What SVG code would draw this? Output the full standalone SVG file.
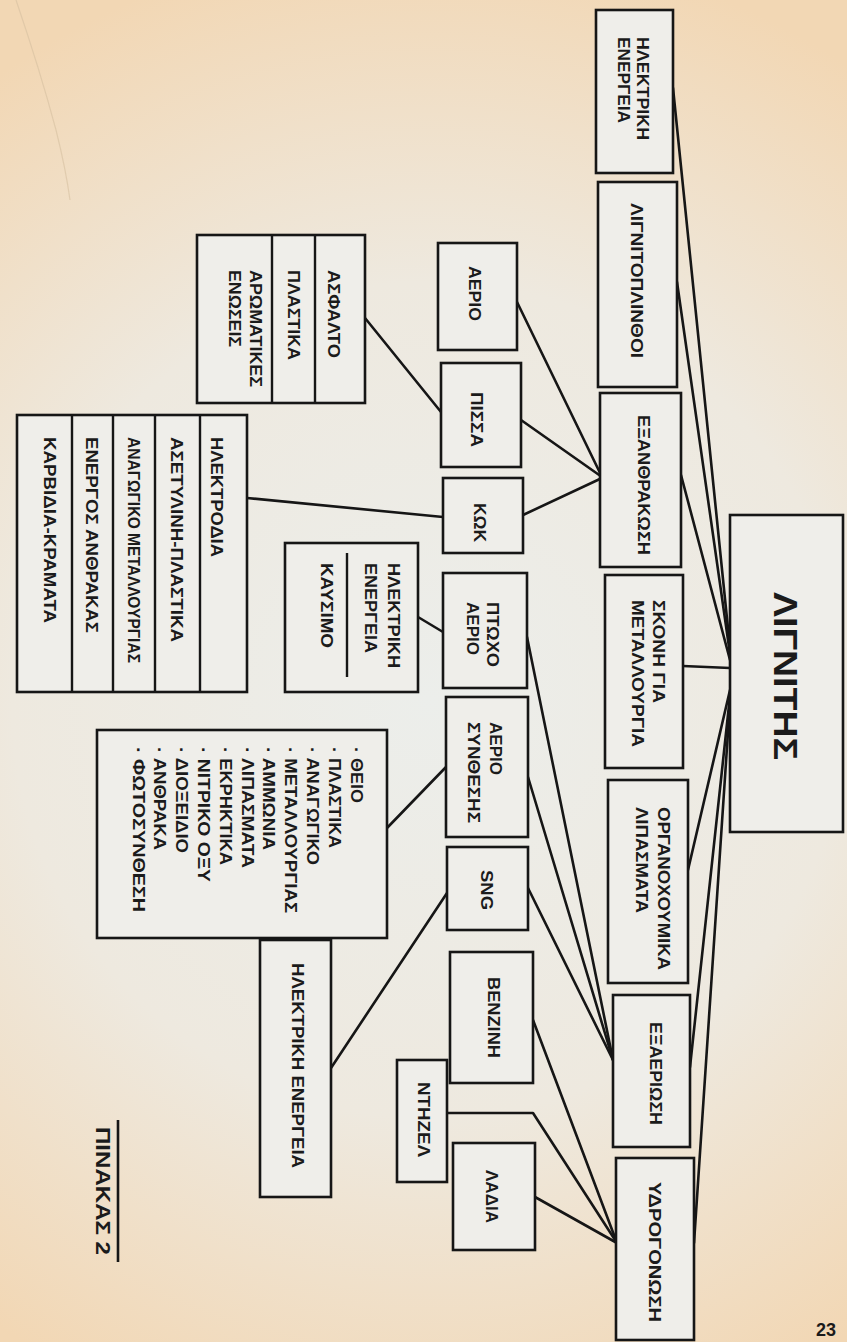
<svg xmlns="http://www.w3.org/2000/svg" width="847" height="1342" viewBox="0 0 847 1342">
<defs>
<radialGradient id="paper" cx="430" cy="700" r="760" gradientUnits="userSpaceOnUse">
<stop offset="0" stop-color="#eceeeb"/>
<stop offset="0.55" stop-color="#eee9df"/>
<stop offset="1" stop-color="#f2d7b4"/>
</radialGradient>
<style>
.box{fill:#efeeea;stroke:#161616;stroke-width:2.6}
.div{stroke:#161616;stroke-width:2.4;fill:none}
.con line,.con polyline{stroke:#161616;stroke-width:2.6;fill:none;stroke-linecap:round;stroke-linejoin:round}
.t{font-family:"Liberation Sans",Arial,sans-serif;font-weight:bold;font-size:16px;fill:#1b1b1b;dominant-baseline:central}
.big{font-size:34px}
.title{font-size:20px}
</style>
</defs>
<rect x="0" y="0" width="847" height="1342" fill="url(#paper)"/>
<path d="M16 0 Q40 70 56 130 Q66 170 70 200" stroke="#d6c0a0" stroke-width="1.2" fill="none" opacity="0.6"/>

<g class="con" id="connectors">
<line x1="673" y1="88" x2="730" y2="648"/>
<line x1="677" y1="282" x2="730" y2="654"/>
<line x1="681" y1="475" x2="730" y2="660"/>
<line x1="683" y1="666" x2="730" y2="668"/>
<line x1="688" y1="870" x2="730" y2="690"/>
<line x1="690" y1="1067" x2="730" y2="696"/>
<line x1="694" y1="1243" x2="730" y2="702"/>
<line x1="517" y1="302" x2="602" y2="477"/>
<line x1="521" y1="420" x2="602" y2="477"/>
<line x1="523" y1="515" x2="602" y2="478"/>
<line x1="527" y1="637" x2="613" y2="1060"/>
<line x1="528" y1="777" x2="613" y2="1060"/>
<line x1="528" y1="888" x2="613" y2="1060"/>
<line x1="533" y1="1020" x2="617" y2="1243"/>
<polyline points="447,1113 533,1113 617,1243"/>
<line x1="535" y1="1197" x2="617" y2="1243"/>
<line x1="365" y1="318" x2="441" y2="412"/>
<line x1="247" y1="498" x2="443" y2="517"/>
<line x1="418" y1="617" x2="443" y2="632"/>
<line x1="387" y1="828" x2="446" y2="767"/>
<line x1="331" y1="1068" x2="447" y2="893"/>
</g>

<g id="lignitis">
<rect class="box" x="730" y="515" width="113" height="317"/>
<text class="t big" transform="translate(786,592) rotate(90)" textLength="168" lengthAdjust="spacingAndGlyphs">ΛΙΓΝΙΤΗΣ</text>
</g>

<g id="p-ilektriki">
<rect class="box" x="596" y="10" width="77" height="163"/>
<text class="t" transform="translate(642,37) rotate(90)" textLength="103" lengthAdjust="spacingAndGlyphs">ΗΛΕΚΤΡΙΚΗ</text>
<text class="t" transform="translate(623,37) rotate(90)" textLength="86" lengthAdjust="spacingAndGlyphs">ΕΝΕΡΓΕΙΑ</text>
</g>
<g id="p-plinthoi">
<rect class="box" x="598" y="182" width="79" height="205"/>
<text class="t" transform="translate(636,203) rotate(90)" textLength="155" lengthAdjust="spacingAndGlyphs">ΛΙΓΝΙΤΟΠΛΙΝΘΟΙ</text>
</g>
<g id="p-exanthrakosi">
<rect class="box" x="600" y="393" width="81" height="174"/>
<text class="t" transform="translate(643,415) rotate(90)" textLength="140" lengthAdjust="spacingAndGlyphs">ΕΞΑΝΘΡΑΚΩΣΗ</text>
</g>
<g id="p-skoni">
<rect class="box" x="605" y="575" width="78" height="193"/>
<text class="t" transform="translate(658,600) rotate(90)" textLength="103" lengthAdjust="spacingAndGlyphs">ΣΚΟΝΗ ΓΙΑ</text>
<text class="t" transform="translate(637,600) rotate(90)" textLength="147" lengthAdjust="spacingAndGlyphs">ΜΕΤΑΛΛΟΥΡΓΙΑ</text>
</g>
<g id="p-organo">
<rect class="box" x="608" y="780" width="80" height="203"/>
<text class="t" transform="translate(663,807) rotate(90)" textLength="163" lengthAdjust="spacingAndGlyphs">ΟΡΓΑΝΟΧΟΥΜΙΚΑ</text>
<text class="t" transform="translate(641,807) rotate(90)" textLength="106" lengthAdjust="spacingAndGlyphs">ΛΙΠΑΣΜΑΤΑ</text>
</g>
<g id="p-exaeriosi">
<rect class="box" x="613" y="995" width="77" height="152"/>
<text class="t" transform="translate(655,1022) rotate(90)" textLength="103" lengthAdjust="spacingAndGlyphs">ΕΞΑΕΡΙΩΣΗ</text>
</g>
<g id="p-ydrogonosi">
<rect class="box" x="616" y="1158" width="78" height="182"/>
<text class="t" transform="translate(654,1182) rotate(90)" textLength="140" lengthAdjust="spacingAndGlyphs">ΥΔΡΟΓΟΝΩΣΗ</text>
</g>

<g id="m-aerio">
<rect class="box" x="438" y="243" width="79" height="107"/>
<text class="t" transform="translate(474,266) rotate(90)" textLength="55" lengthAdjust="spacingAndGlyphs">ΑΕΡΙΟ</text>
</g>
<g id="m-pissa">
<rect class="box" x="441" y="363" width="80" height="104"/>
<text class="t" transform="translate(476,392) rotate(90)" textLength="55" lengthAdjust="spacingAndGlyphs">ΠΙΣΣΑ</text>
</g>
<g id="m-kok">
<rect class="box" x="443" y="478" width="80" height="75"/>
<text class="t" transform="translate(479,503) rotate(90)" textLength="39" lengthAdjust="spacingAndGlyphs">ΚΩΚ</text>
</g>
<g id="m-ptoxo">
<rect class="box" x="443" y="573" width="84" height="115"/>
<text class="t" transform="translate(492,602) rotate(90)" textLength="65" lengthAdjust="spacingAndGlyphs">ΠΤΩΧΟ</text>
<text class="t" transform="translate(472,602) rotate(90)" textLength="53" lengthAdjust="spacingAndGlyphs">ΑΕΡΙΟ</text>
</g>
<g id="m-synthesis">
<rect class="box" x="446" y="697" width="82" height="140"/>
<text class="t" transform="translate(495,722) rotate(90)" textLength="53" lengthAdjust="spacingAndGlyphs">ΑΕΡΙΟ</text>
<text class="t" transform="translate(473,722) rotate(90)" textLength="101" lengthAdjust="spacingAndGlyphs">ΣΥΝΘΕΣΗΣ</text>
</g>
<g id="m-sng">
<rect class="box" x="447" y="847" width="81" height="83"/>
<text class="t" transform="translate(486,870) rotate(90)" textLength="40" lengthAdjust="spacingAndGlyphs">SNG</text>
</g>
<g id="m-venzini">
<rect class="box" x="450" y="952" width="83" height="131"/>
<text class="t" transform="translate(493,977) rotate(90)" textLength="81" lengthAdjust="spacingAndGlyphs">ΒΕΝΖΙΝΗ</text>
</g>
<g id="m-ntizel">
<rect class="box" x="397" y="1060" width="50" height="122"/>
<text class="t" transform="translate(423,1082) rotate(90)" textLength="75" lengthAdjust="spacingAndGlyphs">ΝΤΗΖΕΛ</text>
</g>
<g id="m-ladia">
<rect class="box" x="453" y="1143" width="82" height="107"/>
<text class="t" transform="translate(491,1170) rotate(90)" textLength="53" lengthAdjust="spacingAndGlyphs">ΛΑΔΙΑ</text>
</g>

<g id="l-asfalto">
<rect class="box" x="197" y="235" width="168" height="168"/>
<line class="div" x1="272" y1="235" x2="272" y2="403"/>
<line class="div" x1="315" y1="235" x2="315" y2="403"/>
<text class="t" transform="translate(333,270) rotate(90)" textLength="88" lengthAdjust="spacingAndGlyphs">ΑΣΦΑΛΤΟ</text>
<text class="t" transform="translate(293,270) rotate(90)" textLength="90" lengthAdjust="spacingAndGlyphs">ΠΛΑΣΤΙΚΑ</text>
<text class="t" transform="translate(255,270) rotate(90)" textLength="117" lengthAdjust="spacingAndGlyphs">ΑΡΩΜΑΤΙΚΕΣ</text>
<text class="t" transform="translate(234,270) rotate(90)" textLength="77" lengthAdjust="spacingAndGlyphs">ΕΝΩΣΕΙΣ</text>
</g>

<g id="l-ilektrodia">
<rect class="box" x="17" y="415" width="230" height="277"/>
<line class="div" x1="72" y1="415" x2="72" y2="692"/>
<line class="div" x1="113" y1="415" x2="113" y2="692"/>
<line class="div" x1="155" y1="415" x2="155" y2="692"/>
<line class="div" x1="200" y1="415" x2="200" y2="692"/>
<text class="t" transform="translate(216,437) rotate(90)" textLength="120" lengthAdjust="spacingAndGlyphs">ΗΛΕΚΤΡΟΔΙΑ</text>
<text class="t" transform="translate(176,437) rotate(90)" textLength="205" lengthAdjust="spacingAndGlyphs">ΑΣΕΤΥΛΙΝΗ-ΠΛΑΣΤΙΚΑ</text>
<text class="t" transform="translate(133,437) rotate(90)" textLength="226" lengthAdjust="spacingAndGlyphs">ΑΝΑΓΩΓΙΚΟ ΜΕΤΑΛΛΟΥΡΓΙΑΣ</text>
<text class="t" transform="translate(91,437) rotate(90)" textLength="196" lengthAdjust="spacingAndGlyphs">ΕΝΕΡΓΟΣ ΑΝΘΡΑΚΑΣ</text>
<text class="t" transform="translate(49,437) rotate(90)" textLength="186" lengthAdjust="spacingAndGlyphs">ΚΑΡΒΙΔΙΑ-ΚΡΑΜΑΤΑ</text>
</g>

<g id="l-kafsimo">
<rect class="box" x="285" y="543" width="133" height="149"/>
<text class="t" transform="translate(393,563) rotate(90)" textLength="105" lengthAdjust="spacingAndGlyphs">ΗΛΕΚΤΡΙΚΗ</text>
<text class="t" transform="translate(370,563) rotate(90)" textLength="90" lengthAdjust="spacingAndGlyphs">ΕΝΕΡΓΕΙΑ</text>
<line class="div" x1="347" y1="553" x2="347" y2="677" stroke-width="2"/>
<text class="t" transform="translate(326,563) rotate(90)" textLength="85" lengthAdjust="spacingAndGlyphs">ΚΑΥΣΙΜΟ</text>
</g>

<g id="l-list">
<rect class="box" x="97" y="730" width="290" height="208"/>
<text class="t" transform="translate(356,747) rotate(90)" textLength="56" lengthAdjust="spacingAndGlyphs">· ΘΕΙΟ</text>
<text class="t" transform="translate(334.2,747) rotate(90)" textLength="101" lengthAdjust="spacingAndGlyphs">· ΠΛΑΣΤΙΚΑ</text>
<text class="t" transform="translate(312.4,747) rotate(90)" textLength="118" lengthAdjust="spacingAndGlyphs">· ΑΝΑΓΩΓΙΚΟ</text>
<text class="t" transform="translate(290.6,747) rotate(90)" textLength="166" lengthAdjust="spacingAndGlyphs">· ΜΕΤΑΛΛΟΥΡΓΙΑΣ</text>
<text class="t" transform="translate(268.8,747) rotate(90)" textLength="103" lengthAdjust="spacingAndGlyphs">· ΑΜΜΩΝΙΑ</text>
<text class="t" transform="translate(247,747) rotate(90)" textLength="121" lengthAdjust="spacingAndGlyphs">· ΛΙΠΑΣΜΑΤΑ</text>
<text class="t" transform="translate(225.2,747) rotate(90)" textLength="118" lengthAdjust="spacingAndGlyphs">· ΕΚΡΗΚΤΙΚΑ</text>
<text class="t" transform="translate(203.4,747) rotate(90)" textLength="135" lengthAdjust="spacingAndGlyphs">· ΝΙΤΡΙΚΟ ΟΞΥ</text>
<text class="t" transform="translate(181.6,747) rotate(90)" textLength="106" lengthAdjust="spacingAndGlyphs">· ΔΙΟΞΕΙΔΙΟ</text>
<text class="t" transform="translate(159.8,747) rotate(90)" textLength="103" lengthAdjust="spacingAndGlyphs">· ΑΝΘΡΑΚΑ</text>
<text class="t" transform="translate(138,747) rotate(90)" textLength="165" lengthAdjust="spacingAndGlyphs">· ΦΩΤΟΣΥΝΘΕΣΗ</text>
</g>

<g id="l-ilektriki2">
<rect class="box" x="260" y="940" width="71" height="257"/>
<text class="t" transform="translate(297,963) rotate(90)" textLength="205" lengthAdjust="spacingAndGlyphs">ΗΛΕΚΤΡΙΚΗ ΕΝΕΡΓΕΙΑ</text>
</g>

<g id="title">
<text class="t title" transform="translate(103,1127) rotate(90)" textLength="128" lengthAdjust="spacingAndGlyphs">ΠΙΝΑΚΑΣ 2</text>
<line x1="118" y1="1120" x2="118" y2="1262" stroke="#161616" stroke-width="2.6"/>
</g>

<text x="816" y="1336" font-family="Liberation Sans, Arial, sans-serif" font-weight="bold" font-size="18" fill="#1b1b1b">23</text>
</svg>
